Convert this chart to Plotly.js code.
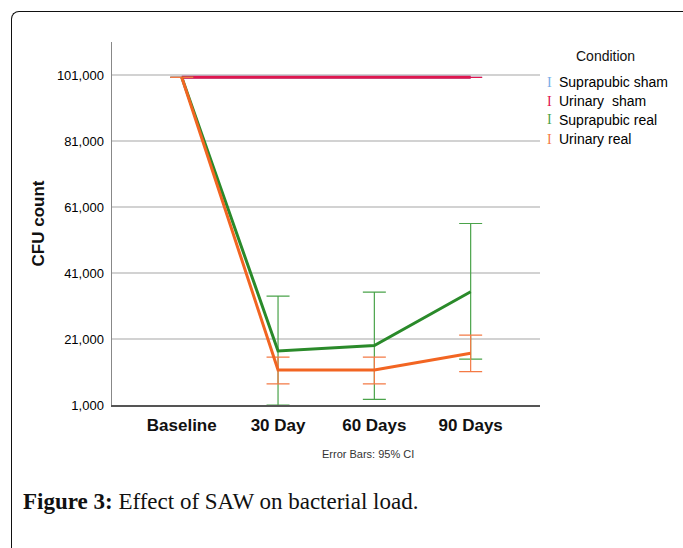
<!DOCTYPE html>
<html>
<head>
<meta charset="utf-8">
<script src="https://cdn.plot.ly/plotly-3.0.1.min.js"></script>
<style>
  html, body { margin:0; padding:0; background:#fff; }
  #wrap { position:relative; width:683px; height:548px; overflow:hidden; }
  #frame { position:absolute; left:11px; top:11px; width:700px; height:600px;
           border-top:1.5px solid #111; border-left:1.5px solid #111;
           border-top-left-radius:8px; pointer-events:none; }
  #chart { position:absolute; left:0; top:0; width:683px; height:548px; }
</style>
</head>
<body>
<div id="wrap">
  <div id="chart"></div>
  <div id="frame"></div>
</div>
<script>
const categories = ["Baseline", "30 Day", "60 Days", "90 Days"];
const seriesNames = ["Suprapubic sham", "Urinary  sham", "Suprapubic real", "Urinary real"];
const suprapubicSham = [100300, 100300, 100300, 100300];
const urinarySham    = [100300, 100300, 100300, 100300];
const suprapubicReal = [100300, 17400, 19000, 35300];
const urinaryReal    = [100300, 11600, 11600, 16700];
// 95% CI bounds
const suprapubicRealUpper = [100300, 34000, 35200, 56000];
const suprapubicRealLower = [100300, 1000, 2700, 14900];
const urinaryRealUpper    = [100300, 15500, 15500, 22200];
const urinaryRealLower    = [100300, 7400, 7400, 11100];
const yTicks = [1000, 21000, 41000, 61000, 81000, 101000];
const yTickText = ["1,000", "21,000", "41,000", "61,000", "81,000", "101,000"];

const lineColors = ["#7aaee6", "#e0174e", "#2a8a2a", "#f26522"];
const errColors  = ["#7aaee6", "#e0174e", "#4aa34a", "#f47a45"];

function errs(vals, up, lo) {
  return {
    type: "data", symmetric: false,
    array: vals.map((v, i) => up[i] - v),
    arrayminus: vals.map((v, i) => v - lo[i])
  };
}

const values = [suprapubicSham, urinarySham, suprapubicReal, urinaryReal];
const uppers = [suprapubicSham, urinarySham, suprapubicRealUpper, urinaryRealUpper];
const lowers = [suprapubicSham, urinarySham, suprapubicRealLower, urinaryRealLower];

const traces = values.map((vals, k) => {
  const e = errs(vals, uppers[k], lowers[k]);
  e.color = errColors[k]; e.thickness = 1.2; e.width = 11.5; e.visible = true;
  return {
    type: "scatter", mode: "lines", x: categories, y: vals,
    name: seriesNames[k],
    line: { color: lineColors[k], width: 3 },
    error_y: e, showlegend: false, cliponaxis: false
  };
});

const ann = [];
ann.push({ xref:"paper", yref:"paper", x: (605-112)/428, y: (548-56-143)/363, text:"Condition",
  showarrow:false, font:{family:"Arial, Liberation Sans", size:14, color:"#111"}, xanchor:"center", yanchor:"middle" });
const legY = [82, 101, 120, 139];
seriesNames.forEach((n, k) => {
  ann.push({ xref:"paper", yref:"paper", x:(549-112)/428, y:(548-legY[k]-143)/363, text:"I",
    showarrow:false, font:{family:"Liberation Serif, Times New Roman", size:14, color:errColors[k]},
    xanchor:"center", yanchor:"middle" });
  ann.push({ xref:"paper", yref:"paper", x:(557-112)/428, y:(548-legY[k]-143)/363, text:n.replace("  ", "&nbsp; "),
    showarrow:false, font:{family:"Arial, Liberation Sans", size:14, color:"#000"},
    xanchor:"left", yanchor:"middle" });
});
ann.push({ xref:"paper", yref:"paper", x:(368-112)/428, y:(548-454-143)/363, text:"Error Bars: 95% CI",
  showarrow:false, font:{family:"Arial, Liberation Sans", size:11, color:"#333"}, xanchor:"center", yanchor:"middle" });
ann.push({ xref:"paper", yref:"paper", x:(21-112)/428, y:(548-501-143)/363,
  text:"<b>Figure 3:</b> Effect of SAW on bacterial load.",
  showarrow:false, font:{family:"Liberation Serif, Times New Roman, serif", size:23, color:"#111"},
  xanchor:"left", yanchor:"middle" });

const layout = {
  width: 683, height: 548,
  margin: { l:112, r:143, t:42, b:143, pad:0 },
  paper_bgcolor: "rgba(0,0,0,0)", plot_bgcolor: "#fff",
  showlegend: false,
  xaxis: {
    type: "category", range: [-0.724, 3.72],
    showgrid: false, zeroline: false,
    showline: true, linecolor: "#555", linewidth: 1.5,
    ticks: "", tickfont: { family:"Arial, Liberation Sans", size:17, color:"#111", weight:"bold" },
    ticklabelstandoff: 4
  },
  yaxis: {
    range: [1000, 111000], tickvals: yTicks, ticktext: yTickText,
    showgrid: true, gridcolor: "#d2d2d2", gridwidth: 1.5, zeroline: false,
    showline: true, linecolor: "#888", linewidth: 1.5,
    ticks: "", tickfont: { family:"Arial, Liberation Sans", size:13, color:"#000" },
    ticklabelstandoff: 4,
    title: { text: "<b>CFU count</b>", font: { family:"Arial, Liberation Sans", size:17, color:"#111" }, standoff: 8 }
  },
  annotations: ann
};

Plotly.newPlot("chart", traces, layout, { displayModeBar: false, staticPlot: true });
</script>
</body>
</html>
